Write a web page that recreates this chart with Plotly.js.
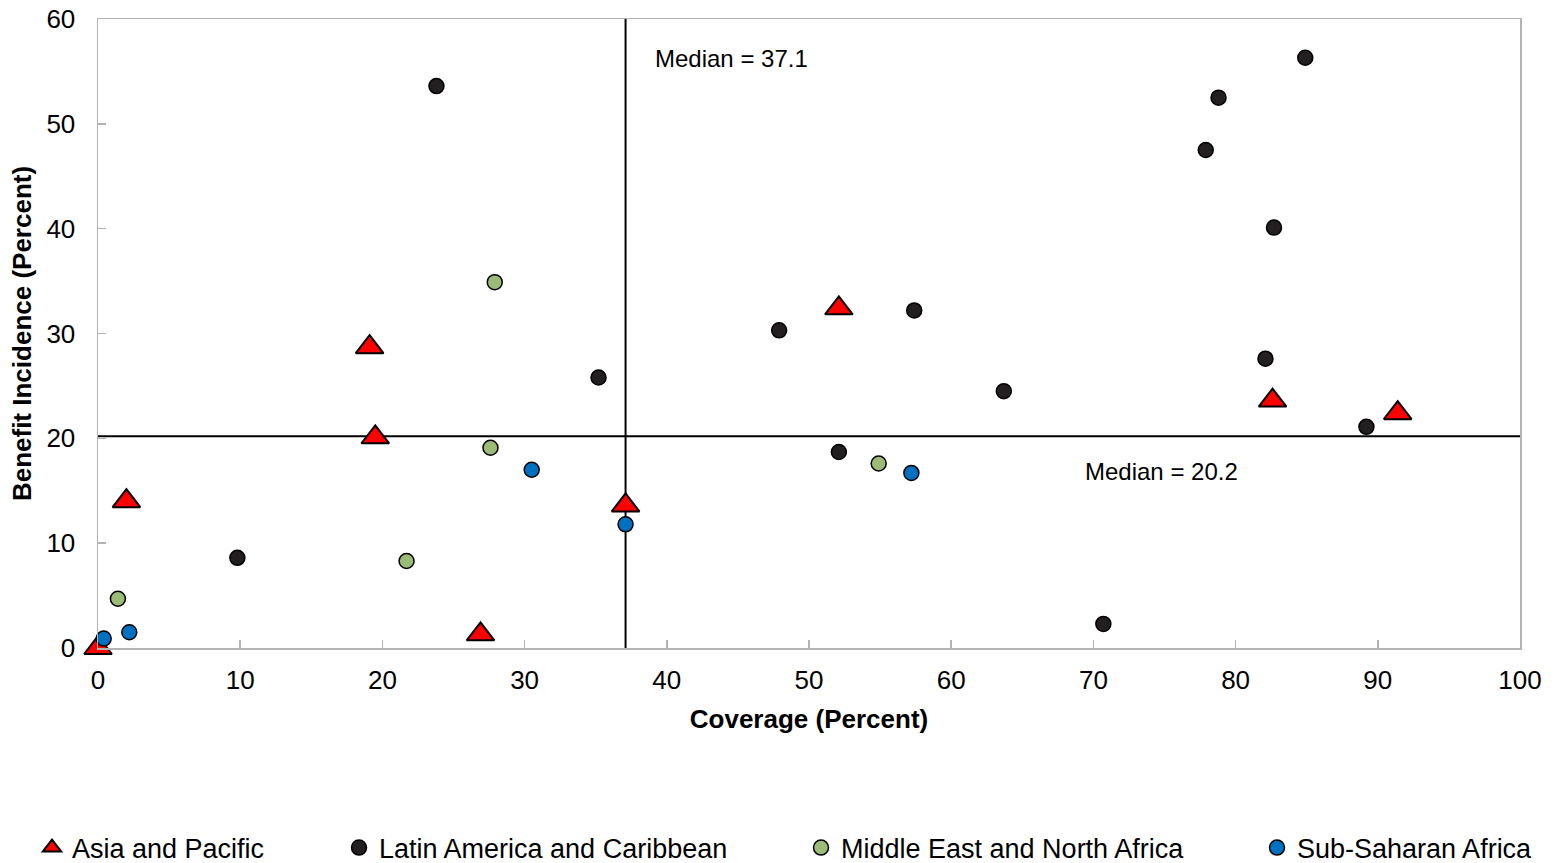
<!DOCTYPE html>
<html>
<head>
<meta charset="utf-8">
<script src="https://cdn.plot.ly/plotly-3.0.1.min.js"></script>
<style>html,body{margin:0;padding:0;background:#fff;}#chart{width:1555px;height:863px;}</style>
</head>
<body>
<div id="chart"></div>
<script>
// Asia and Pacific
const asiaX = [0.0, 2.0, 19.1, 19.5, 26.9, 37.1, 52.1, 82.6, 91.4];
const asiaY = [0.0, 14.0, 28.7, 20.1, 1.3, 13.6, 32.4, 23.6, 22.4];
// Latin America and Caribbean
const latamX = [23.8, 9.8, 35.2, 47.9, 57.4, 52.1, 63.7, 70.7, 77.9, 78.8, 84.9, 82.7, 82.1, 89.2];
const latamY = [53.6, 8.6, 25.8, 30.3, 32.2, 18.7, 24.5, 2.3, 47.5, 52.5, 56.3, 40.1, 27.6, 21.1];
// Middle East and North Africa
const menaX = [1.4, 21.7, 27.6, 27.9, 54.9];
const menaY = [4.7, 8.3, 19.1, 34.9, 17.6];
// Sub-Saharan Africa
const ssaX = [0.4, 2.2, 30.5, 37.1, 57.2];
const ssaY = [0.9, 1.5, 17.0, 11.8, 16.7];

const seriesNames = ["Asia and Pacific", "Latin America and Caribbean", "Middle East and North Africa", "Sub-Saharan Africa"];
const medianCoverage = 37.1;
const medianBenefit = 20.2;
const xRange = [0, 100];
const yRange = [0, 60];

const font = "Liberation Sans, Arial, sans-serif";

const traces = [
  {x: asiaX, y: asiaY, name: seriesNames[0], legend: "legend", mode: "markers", type: "scatter", cliponaxis: false,
   marker: {symbol: "triangle-up", size: 24, color: "#FF0000", line: {color: "#000", width: 2}}},
  {x: latamX, y: latamY, name: seriesNames[1], legend: "legend2", mode: "markers", type: "scatter", cliponaxis: false,
   marker: {symbol: "circle", size: 15, color: "#231F20", line: {color: "#000", width: 1.5}}},
  {x: menaX, y: menaY, name: seriesNames[2], legend: "legend3", mode: "markers", type: "scatter", cliponaxis: false,
   marker: {symbol: "circle", size: 15, color: "#9BBB77", line: {color: "#000", width: 1.5}}},
  {x: ssaX, y: ssaY, name: seriesNames[3], legend: "legend4", mode: "markers", type: "scatter", cliponaxis: false,
   marker: {symbol: "circle", size: 15, color: "#0070C0", line: {color: "#000", width: 1.5}}}
];

function leg(px) {
  return {xref: "container", yref: "container", x: px / 1555, y: 1 - 848 / 863, xanchor: "left", yanchor: "middle",
          orientation: "h", bgcolor: "rgba(0,0,0,0)", font: {family: font, size: 27, color: "#000"},
          itemwidth: 30, tracegroupgap: 0};
}

const layout = {
  width: 1555, height: 863,
  margin: {l: 98, r: 35, t: 19, b: 215},
  paper_bgcolor: "#fff", plot_bgcolor: "#fff",
  font: {family: font, size: 24, color: "#000"},
  showlegend: true,
  legend: leg(32), legend2: leg(339), legend3: leg(801), legend4: leg(1257),
  xaxis: {range: xRange, dtick: 10, ticks: "inside", ticklen: 8, tickcolor: "#b3b3b3", tickwidth: 1.5, automargin: false,
          showline: true, linecolor: "#b3b3b3", linewidth: 1.5, mirror: true, showgrid: false, zeroline: false,
          ticklabelstandoff: 8, tickfont: {family: font, size: 26, color: "#000"},
          title: {text: "<b>Coverage (Percent)</b>", font: {family: font, size: 26, color: "#000"}, standoff: 16}},
  yaxis: {range: yRange, dtick: 10, ticks: "inside", ticklen: 8, tickcolor: "#b3b3b3", tickwidth: 1.5, automargin: false,
          showline: true, linecolor: "#b3b3b3", linewidth: 1.5, mirror: true, showgrid: false, zeroline: false,
          ticklabelstandoff: 16, tickfont: {family: font, size: 26, color: "#000"},
          title: {text: "<b>Benefit Incidence (Percent)</b>", font: {family: font, size: 26, color: "#000"}, standoff: 7}},
  shapes: [
    {type: "line", xref: "x", yref: "y", x0: medianCoverage, x1: medianCoverage, y0: yRange[0], y1: yRange[1],
     line: {color: "#000", width: 2}, layer: "below"},
    {type: "line", xref: "x", yref: "y", x0: xRange[0], x1: xRange[1], y0: medianBenefit, y1: medianBenefit,
     line: {color: "#000", width: 2}, layer: "below"}
  ],
  annotations: [
    {xref: "x", yref: "y", x: 39.0, y: 56.2, xanchor: "left", yanchor: "middle", showarrow: false,
     text: "Median = " + medianCoverage, font: {family: font, size: 24, color: "#000"}},
    {xref: "x", yref: "y", x: 69.3, y: 16.8, xanchor: "left", yanchor: "middle", showarrow: false,
     text: "Median = " + medianBenefit, font: {family: font, size: 24, color: "#000"}}
  ]
};

Plotly.newPlot("chart", traces, layout, {displayModeBar: false, staticPlot: true});
</script>
</body>
</html>
